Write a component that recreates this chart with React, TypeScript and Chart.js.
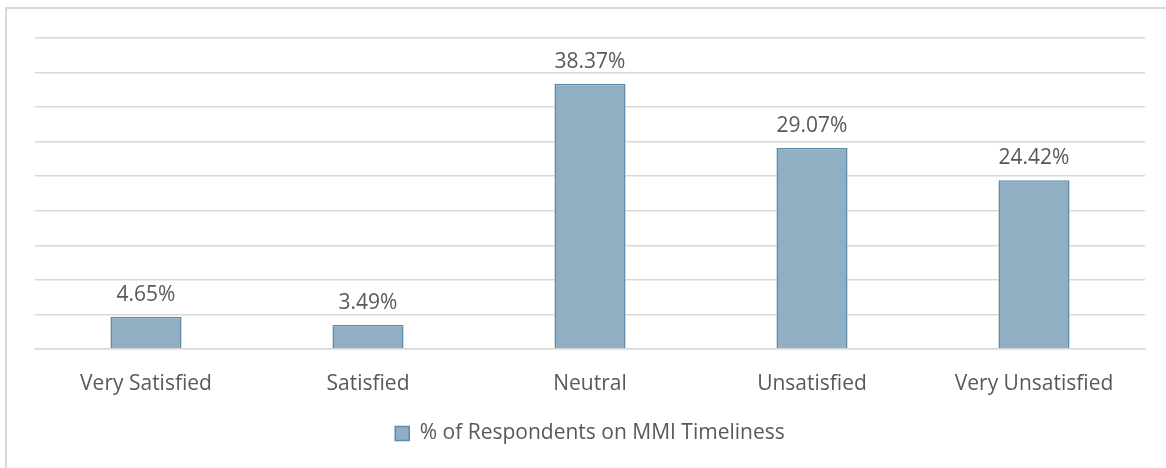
import React, { useEffect, useRef } from "react";
import { Chart, registerables } from "chart.js";

Chart.register(...registerables);

const categories = ["Very Satisfied", "Satisfied", "Neutral", "Unsatisfied", "Very Unsatisfied"];
const respondentPct = [4.65, 3.49, 38.37, 29.07, 24.42];
const seriesName = "% of Respondents on MMI Timeliness";

const FONT = "'Open Sans', 'Liberation Sans', sans-serif";
const TEXT = "#595959";
const FONT_SIZE = 21;

// Percent labels above each bar
const valueLabels = {
  id: "valueLabels",
  afterDatasetsDraw(chart: any) {
    const { ctx } = chart;
    const meta = chart.getDatasetMeta(0);
    ctx.save();
    ctx.font = `${FONT_SIZE}px ${FONT}`;
    ctx.fillStyle = TEXT;
    ctx.textAlign = "center";
    ctx.textBaseline = "alphabetic";
    meta.data.forEach((bar: any, i: number) => {
      ctx.fillText(respondentPct[i].toFixed(2) + "%", bar.x, bar.y - 16);
    });
    ctx.restore();
  },
};

export default function App() {
  const ref = useRef<HTMLCanvasElement>(null);

  useEffect(() => {
    if (!ref.current) return;
    const chart = new Chart(ref.current, {
      type: "bar",
      data: {
        labels: categories,
        datasets: [
          {
            label: seriesName,
            data: respondentPct,
            backgroundColor: "#90AFC2",
            borderColor: "#5B8BAA",
            borderWidth: 1.5,
            categoryPercentage: 1,
            barPercentage: 0.32,
          },
        ],
      },
      options: {
        responsive: false,
        animation: false,
        layout: { padding: { left: 35, right: 21, top: 38, bottom: 14 } },
        plugins: {
          tooltip: { enabled: false },
          legend: {
            position: "bottom",
            labels: {
              color: TEXT,
              font: { family: FONT, size: FONT_SIZE },
              boxWidth: 14,
              boxHeight: 14,
              padding: 10,
              generateLabels: () => [
                {
                  text: seriesName,
                  fillStyle: "#90AFC2",
                  strokeStyle: "#5B8BAA",
                  lineWidth: 1.5,
                  fontColor: TEXT,
                  hidden: false,
                  datasetIndex: 0,
                },
              ],
            },
          },
        },
        scales: {
          x: {
            grid: { display: false, drawTicks: false },
            border: { color: "#d9d9d9", width: 1.5 },
            ticks: { color: TEXT, font: { family: FONT, size: FONT_SIZE }, padding: 22 },
            afterFit: (s: any) => {
              s.height = 64;
            },
          },
          y: {
            min: 0,
            max: 45,
            grid: { color: "#d9d9d9", lineWidth: 1.5, drawTicks: false },
            border: { display: false },
            ticks: { display: false, stepSize: 5 },
            afterFit: (s: any) => {
              s.width = 0;
            },
          },
        },
      },
      plugins: [valueLabels],
    });
    return () => chart.destroy();
  }, []);

  return (
    <div style={{ position: "absolute", left: 0, top: 0, width: 1166, height: 468, background: "#fff" }}>
      <div
        style={{
          position: "absolute",
          left: 5,
          top: 7,
          width: 1200,
          height: 500,
          border: "2px solid #d9d9d9",
          boxSizing: "border-box",
        }}
      />
      <canvas ref={ref} width={1166} height={468} style={{ position: "absolute", left: 0, top: 0 }} />
    </div>
  );
}
